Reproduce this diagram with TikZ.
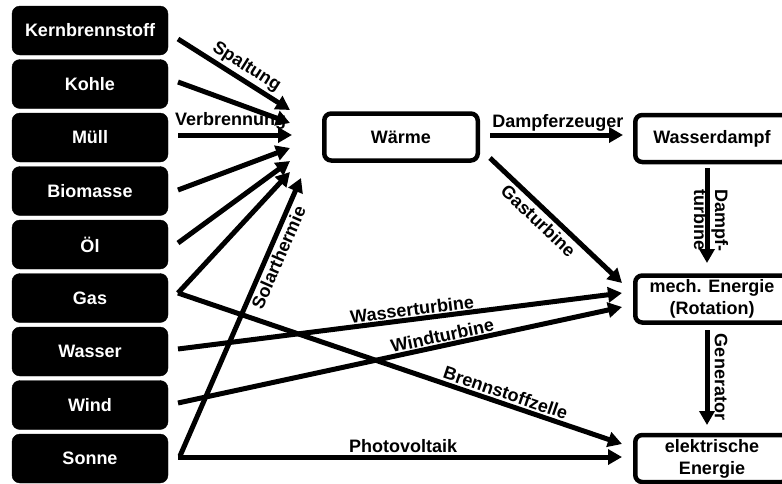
\documentclass[tikz,border=0pt]{standalone}
\usepackage{fontspec}
\setmainfont{Liberation Sans}
\usetikzlibrary{arrows.meta}
\newcommand{\bigbf}{\fontsize{18}{22}\selectfont\bfseries}
\begin{document}
\begin{tikzpicture}[x=1pt,y=-1pt,
  srcbox/.style={draw=black, fill=black, rounded corners=8pt, minimum width=156pt, minimum height=49pt, text=white, font=\bigbf, inner sep=0pt},
  tgtbox/.style={draw=black, fill=white, line width=4.5pt, rounded corners=7pt, minimum width=153.5pt, minimum height=47pt, font=\bigbf, align=center, inner sep=0pt},
  arr/.style={line width=5pt, -{Triangle[length=14pt,width=15pt]}},
  lbl/.style={font=\bigbf, inner sep=2pt}]
\clip (0,0) rectangle (782,483);
\fill[white] (0,0) rectangle (782,483);

% source boxes
\node[srcbox] (kern) at (90,30.5) {Kernbrennstoff};
\node[srcbox] (kohle) at (90,84) {Kohle};
\node[srcbox] (muell) at (90,137.5) {Müll};
\node[srcbox] (bio) at (90,191) {Biomasse};
\node[srcbox] (oel) at (90,244.5) {Öl};
\node[srcbox] (gas) at (90,298) {Gas};
\node[srcbox] (wasser) at (90,351.5) {Wasser};
\node[srcbox] (wind) at (90,405) {Wind};
\node[srcbox] (sonne) at (90,458.5) {Sonne};

% target boxes
\node[tgtbox] (waerme) at (401,137) {Wärme};
\node[tgtbox] (dampf) at (712,138.5) {Wasserdampf};
\node[tgtbox] (mech) at (712,299) {mech. Energie\\(Rotation)};
\node[tgtbox] (elek) at (712,458.5) {elektrische\\Energie};

% connector end points
\coordinate (kernS) at (178,39);   \coordinate (kernE) at (290,110);
\coordinate (kohleS) at (178,82);  \coordinate (kohleE) at (290,123);
\coordinate (muellS) at (178,135); \coordinate (muellE) at (292,135);
\coordinate (bioS) at (178,190);   \coordinate (bioE) at (290,148);
\coordinate (oelS) at (178,243);   \coordinate (oelE) at (290,161);
\coordinate (gasS) at (178,293);   \coordinate (gasE) at (290,172);
\coordinate (sonneS) at (180,456); \coordinate (solE) at (301,178);
\coordinate (wasserS) at (178,349); \coordinate (wasserE) at (622,293);
\coordinate (windS) at (178,403);  \coordinate (windE) at (622,307);
\coordinate (bzE) at (622,444);
\coordinate (pvS) at (178,457);    \coordinate (pvE) at (622,457);
\coordinate (wdS) at (490,135);    \coordinate (wdE) at (623,135);
\coordinate (gtS) at (490,158);    \coordinate (gtE) at (622,283);
\coordinate (dtS) at (707,168);    \coordinate (dtE) at (707,263);
\coordinate (genS) at (707,330);   \coordinate (genE) at (707,425);

\node[lbl, anchor=west] (verbr) at (173,121) {Verbrennung};

\draw[arr] (kernS) -- node[lbl, sloped, above, pos=0.55] (spalt) {Spaltung} (kernE);
\draw[arr] (kohleS) -- (kohleE);
\draw[arr] (muellS) -- (muellE);
\draw[arr] (bioS) -- (bioE);
\draw[arr] (oelS) -- (oelE);
\draw[arr] (gasS) -- (gasE);
\draw[arr] (sonneS) -- node[lbl, sloped, below, pos=0.73] (solar) {Solarthermie} (solE);
\draw[arr] (wasserS) -- node[lbl, sloped, above, pos=0.53, inner sep=1pt] (wt) {Wasserturbine} (wasserE);
\draw[arr] (windS) -- node[lbl, sloped, above, pos=0.6, inner sep=1pt] (wit) {Windturbine} (windE);
\draw[arr] (gasS) -- node[lbl, sloped, above, pos=0.73] (bz) {Brennstoffzelle} (bzE);
\draw[arr] (pvS) -- node[lbl, above, pos=0.507] (pv) {Photovoltaik} (pvE);
\draw[arr] (wdS) -- node[lbl, above, pos=0.51, inner sep=1pt] (dez) {Dampferzeuger} (wdE);
\draw[arr] (gtS) -- node[lbl, sloped, below, pos=0.43, inner sep=3pt] (gt) {Gasturbine} (gtE);
\draw[arr] (dtS) -- (dtE);
\draw[arr] (genS) -- (genE);

\node[lbl, rotate=-90, align=center, font=\fontsize{18}{21}\selectfont\bfseries] (dtl) at (711,220) {Dampf-\\turbine};
\node[lbl, rotate=-90] (genl) at (721,377) {Generator};
\end{tikzpicture}
\end{document}
